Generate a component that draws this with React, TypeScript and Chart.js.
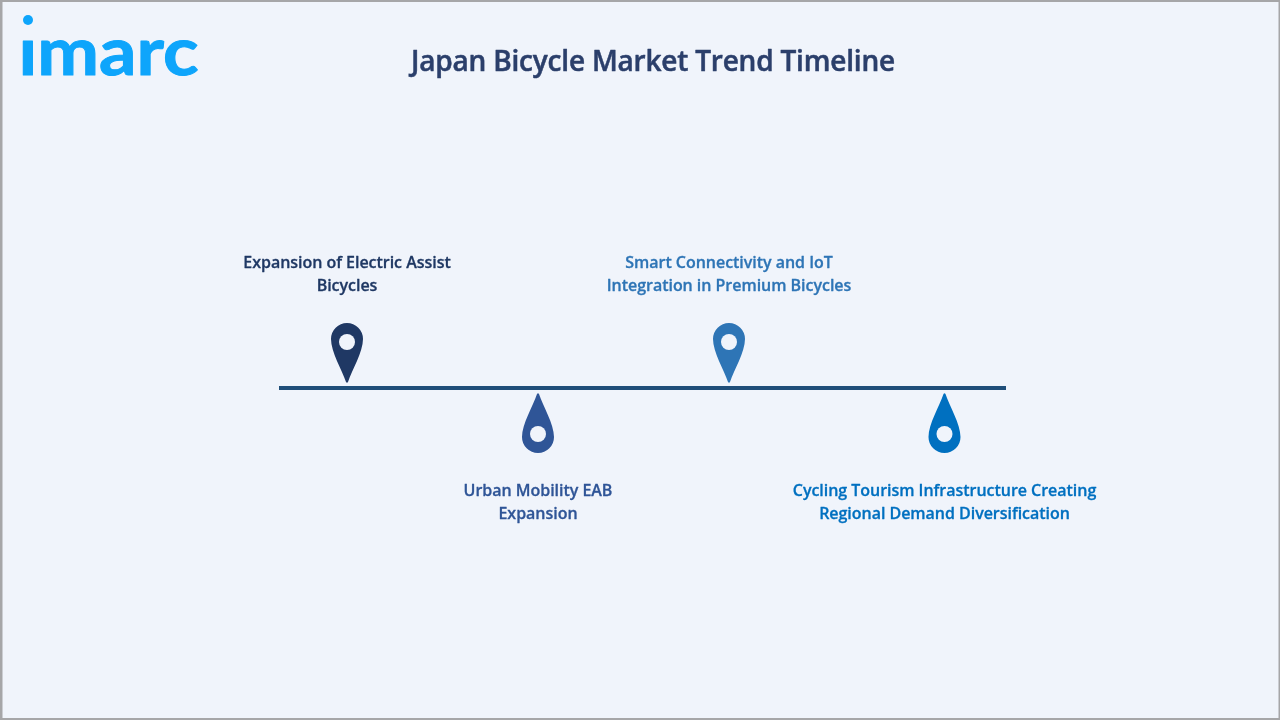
import React, { useEffect, useRef } from "react";
import { Chart, registerables } from "chart.js";

Chart.register(...registerables);

const chartTitle = "Japan Bicycle Market Trend Timeline";
const logoText = "ımarc";
const milestoneLabels = [
  ["Expansion of Electric Assist", "Bicycles"],
  ["Urban Mobility EAB", "Expansion"],
  ["Smart Connectivity and IoT", "Integration in Premium Bicycles"],
  ["Cycling Tourism Infrastructure Creating", "Regional Demand Diversification"],
];
const milestonePositions = [347, 538, 729, 944.5];
const milestoneSides = [5, -5, 5, -5];
const axisStart = 279;
const axisEnd = 1006;
const milestoneColors = ["#1f3864", "#2f5597", "#2e75b6", "#0070c0"];

const BG = "#f0f4fb";
const FONT = '"Open Sans", sans-serif';

function drawPin(ctx: CanvasRenderingContext2D, x: number, tipY: number, up: boolean, color: string) {
  const dir = up ? 1 : -1;
  const r = 16;
  const d = 44;
  ctx.save();
  ctx.translate(x, tipY);
  ctx.scale(1, dir);
  ctx.fillStyle = color;
  ctx.beginPath();
  ctx.arc(0, -d, r, Math.PI, Math.PI * 2);
  ctx.bezierCurveTo(r, -31, 5, -13, 1, -1);
  ctx.quadraticCurveTo(0, 0.4, -1, -1);
  ctx.bezierCurveTo(-5, -13, -r, -31, -r, -d);
  ctx.closePath();
  ctx.fill();
  ctx.fillStyle = BG;
  ctx.beginPath();
  ctx.arc(0, -41, 8, 0, Math.PI * 2);
  ctx.fill();
  ctx.restore();
}

function heavyText(ctx: any, text: string, x: number, y: number, spacing: string, stroke: number) {
  ctx.letterSpacing = spacing;
  ctx.strokeStyle = ctx.fillStyle;
  ctx.lineWidth = stroke;
  ctx.lineJoin = "round";
  ctx.fillText(text, x, y);
  ctx.strokeText(text, x, y);
  ctx.letterSpacing = "0px";
}

const timelineArt = {
  id: "timelineArt",
  beforeDraw(chart: any) {
    const { ctx, width, height } = chart;
    ctx.save();
    ctx.fillStyle = "#a6a6a8";
    ctx.fillRect(0, 0, width, height);
    ctx.fillStyle = BG;
    ctx.fillRect(2.5, 2, width - 4, height - 4);
    ctx.restore();
  },
  afterDatasetsDraw(chart: any) {
    const { ctx } = chart;
    const meta = chart.getDatasetMeta(1);
    ctx.save();
    meta.data.forEach((pt: any, i: number) => {
      const up = milestoneSides[i] > 0;
      drawPin(ctx, pt.x, pt.y, up, milestoneColors[i]);
      const lines = milestoneLabels[i];
      ctx.font = `600 16px ${FONT}`;
      ctx.fillStyle = milestoneColors[i];
      ctx.textAlign = "center";
      ctx.textBaseline = "middle";
      lines.forEach((line, j) => {
        const y = up ? pt.y - 97 - (lines.length - 1 - j) * 23 : pt.y + 98 + j * 23;
        heavyText(ctx, line, pt.x, y, "-0.03px", 0.3);
      });
    });

    ctx.fillStyle = "#2b3f6b";
    ctx.font = `600 28px ${FONT}`;
    ctx.textAlign = "center";
    ctx.textBaseline = "middle";
    heavyText(ctx, chartTitle, 653, 63, "-0.2px", 0.5);

    ctx.fillStyle = "#0ea5fb";
    ctx.strokeStyle = "#0ea5fb";
    ctx.font = `700 66px Lato, sans-serif`;
    ctx.textAlign = "left";
    ctx.textBaseline = "alphabetic";
    const w = ctx.measureText(logoText).width;
    ctx.save();
    ctx.translate(18.5, 75);
    ctx.scale(180 / w, 1);
    ctx.lineWidth = 1;
    ctx.lineJoin = "round";
    ctx.fillText(logoText, 0, 0);
    ctx.strokeText(logoText, 0, 0);
    ctx.restore();
    ctx.beginPath();
    ctx.arc(28, 20, 5, 0, Math.PI * 2);
    ctx.fill();
    ctx.restore();
  },
};

export default function App() {
  const ref = useRef<HTMLCanvasElement>(null);
  useEffect(() => {
    document.body.style.margin = "0";
    const chart = new Chart(ref.current!, {
      type: "scatter",
      data: {
        datasets: [
          {
            label: "Timeline",
            type: "line",
            data: [
              { x: axisStart, y: 0 },
              { x: axisEnd, y: 0 },
            ],
            borderColor: "#1f4e79",
            borderWidth: 4,
            pointRadius: 0,
          },
          {
            label: "Milestones",
            data: milestonePositions.map((x, i) => ({ x, y: milestoneSides[i] })),
            pointRadius: 0,
          },
        ],
      } as any,
      options: {
        responsive: false,
        animation: false,
        layout: { padding: 0 },
        plugins: { legend: { display: false }, tooltip: { enabled: false }, title: { display: false } },
        scales: {
          x: { type: "linear", display: false, min: 0, max: 1280 },
          y: { type: "linear", display: false, min: -332, max: 388 },
        },
      },
      plugins: [timelineArt],
    });
    return () => chart.destroy();
  }, []);
  return <canvas ref={ref} width={1280} height={720} style={{ display: "block" }} />;
}
